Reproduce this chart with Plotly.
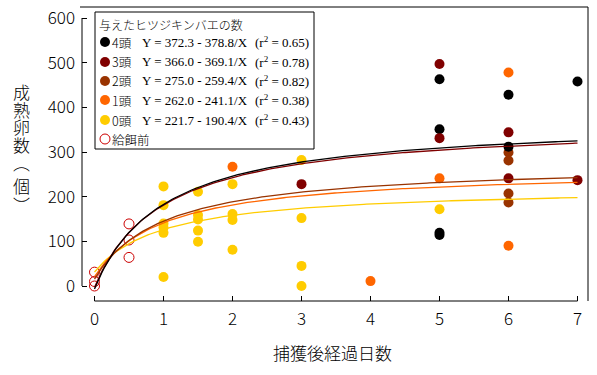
import numpy as np
import plotly.graph_objects as go

# ---------------- data ----------------
group_labels = ["4頭", "3頭", "2頭", "1頭", "0頭"]
fit_a = [372.3, 366.0, 275.0, 262.0, 221.7]
fit_b = [378.8, 369.1, 259.4, 241.1, 190.4]
fit_r2 = [0.65, 0.78, 0.82, 0.38, 0.43]
group_colors = ["#000000", "#800000", "#993300", "#FF6600", "#FFCC00"]

days_4 = [5, 5, 5, 5, 6, 6, 7]
eggs_4 = [463, 351, 119, 114, 428, 312, 458]
days_3 = [3, 5, 5, 6, 6, 7]
eggs_3 = [228, 497, 331, 344, 241, 237]
days_2 = [6, 6, 6, 6]
eggs_2 = [299, 281, 207, 187]
days_1 = [2, 4, 5, 6, 6]
eggs_1 = [267, 11, 241, 478, 90]
days_0 = [1, 1, 1, 1, 1, 1, 1.5, 1.5, 1.5, 1.5, 1.5, 2, 2, 2, 2, 3, 3, 3, 3, 5]
eggs_0 = [223, 181, 140, 131, 119, 20, 211, 159, 149, 124, 99, 228, 161, 148, 81, 282, 152, 45, 0, 172]
days_pre = [0, 0, 0, 0.5, 0.5, 0.5]
eggs_pre = [31, 10, 0, 139, 103, 64]
pre_label = "給餌前"
pre_color = "#CC0000"

x_ticks = [0, 1, 2, 3, 4, 5, 6, 7]
y_ticks = [0, 100, 200, 300, 400, 500, 600]
x_title = "捕獲後経過日数"
y_title_chars = ["成", "熟", "卵", "数", "︵", "個", "︶"]
legend_title = "与えたヒツジキンバエの数"

# ---------------- layout helpers ----------------
W, H = 597, 375
L, R, T, B = 82, 588, 7, 301


def px(xp):
    return (xp - L) / (R - L)


def py(yp):
    return (B - yp) / (B - T)


CJK = "Noto Sans CJK JP"
SERIF = "Liberation Serif"
LIGHT = 300

fig = go.Figure()

series = {
    "0頭": (days_0, eggs_0),
    "1頭": (days_1, eggs_1),
    "2頭": (days_2, eggs_2),
    "4頭": (days_4, eggs_4),
    "3頭": (days_3, eggs_3),
}
for name, (dx, ey) in series.items():
    col = group_colors[group_labels.index(name)]
    fig.add_trace(go.Scatter(x=dx, y=ey, mode="markers", name=name,
                             marker=dict(size=10, color=col, line=dict(width=0)),
                             showlegend=False, cliponaxis=False))

fig.add_trace(go.Scatter(x=days_pre, y=eggs_pre, mode="markers", name=pre_label,
                         marker=dict(size=10, symbol="circle-open", color=pre_color,
                                     line=dict(width=1)),
                         showlegend=False, cliponaxis=False))

# fitted curves Y = a - b/X, X = days + 1
xs = np.linspace(0, 7, 200)
for i in [4, 3, 2, 1, 0]:
    ys = fit_a[i] - fit_b[i] / (xs + 1)
    fig.add_trace(go.Scatter(x=xs, y=ys, mode="lines", name=group_labels[i] + " fit",
                             line=dict(color=group_colors[i], width=1.3),
                             showlegend=False, hoverinfo="skip"))

shapes = []
# axis lines (offset style)
shapes.append(dict(type="line", xref="paper", yref="y", x0=0, x1=0, y0=0, y1=600,
                   line=dict(color="black", width=1)))
shapes.append(dict(type="line", xref="x", yref="paper", x0=0, x1=7, y0=0, y1=0,
                   line=dict(color="black", width=1)))
# frame top / right
shapes.append(dict(type="line", xref="paper", yref="paper", x0=px(80), x1=1, y0=1, y1=1,
                   line=dict(color="black", width=1)))
shapes.append(dict(type="line", xref="paper", yref="paper", x0=1, x1=1, y0=0, y1=1,
                   line=dict(color="black", width=1)))
# legend box
shapes.append(dict(type="rect", xref="paper", yref="paper", x0=px(95), x1=px(314),
                   y0=py(149), y1=py(12), line=dict(color="black", width=1),
                   fillcolor="white", layer="above"))

annotations = []
annotations.append(dict(text=legend_title, x=px(97), y=py(25), xref="paper", yref="paper",
                        xanchor="left", yanchor="middle", showarrow=False,
                        font=dict(family=CJK, size=12, color="black", weight=LIGHT)))
row_y = [42, 62, 81, 100, 120]
for i in range(5):
    yy = row_y[i]
    shapes.append(dict(type="circle", xref="paper", yref="paper", xsizemode="pixel",
                       ysizemode="pixel", xanchor=px(105), yanchor=py(yy),
                       x0=-5, x1=5, y0=-5, y1=5, fillcolor=group_colors[i],
                       line=dict(width=0), layer="above"))
    annotations.append(dict(text=group_labels[i], x=px(110), y=py(yy), xref="paper", yref="paper",
                            xanchor="left", yanchor="middle", showarrow=False,
                            font=dict(family=CJK, size=12.5, color="black", weight=LIGHT)))
    annotations.append(dict(text=f"Y = {fit_a[i]:.1f} - {fit_b[i]:.1f}/X",
                            x=px(140), y=py(yy), xref="paper", yref="paper",
                            xanchor="left", yanchor="middle", showarrow=False,
                            font=dict(family=SERIF, size=13, color="black")))
    annotations.append(dict(text=f"(r<sup>2</sup> = {fit_r2[i]:.2f})",
                            x=px(253), y=py(yy), xref="paper", yref="paper",
                            xanchor="left", yanchor="middle", showarrow=False,
                            font=dict(family=SERIF, size=13, color="black")))
shapes.append(dict(type="circle", xref="paper", yref="paper", xsizemode="pixel",
                   ysizemode="pixel", xanchor=px(105), yanchor=py(139),
                   x0=-5, x1=5, y0=-5, y1=5, fillcolor="rgba(0,0,0,0)",
                   line=dict(width=1, color=pre_color), layer="above"))
annotations.append(dict(text=pre_label, x=px(110), y=py(139), xref="paper", yref="paper",
                        xanchor="left", yanchor="middle", showarrow=False,
                        font=dict(family=CJK, size=12.5, color="black", weight=LIGHT)))

# axis titles
annotations.append(dict(text=x_title, x=px(332), y=py(352), xref="paper", yref="paper",
                        xanchor="center", yanchor="middle", showarrow=False,
                        font=dict(family=CJK, size=17, color="black", weight=LIGHT)))
y_char_pos = [91.5, 109, 126.5, 144, 163, 185, 204]
for ch, yy in zip(y_title_chars, y_char_pos):
    annotations.append(dict(text=ch, x=px(21), y=py(yy), xref="paper", yref="paper",
                            xanchor="center", yanchor="middle", showarrow=False,
                            font=dict(family=CJK, size=17, color="black", weight=LIGHT)))

x0_px, x7_px = 94.5, 577.5
ppu = (x7_px - x0_px) / 7
y0_px, y600_px = 286, 18
ppv = (y0_px - y600_px) / 600

fig.update_layout(
    width=W, height=H,
    margin=dict(l=L, r=W - R, t=T, b=H - B, autoexpand=False),
    paper_bgcolor="white", plot_bgcolor="white",
    showlegend=False,
    shapes=shapes, annotations=annotations,
    xaxis=dict(range=[(L - x0_px) / ppu, (R - x0_px) / ppu], tickvals=x_ticks,
               ticktext=[str(v) for v in x_ticks], automargin=False,
               ticks="inside", ticklen=5, tickwidth=1, tickcolor="black",
               showline=False, showgrid=False, zeroline=False,
               tickfont=dict(family=CJK, size=17, color="black", weight=LIGHT),
               ticklabelstandoff=6, fixedrange=True),
    yaxis=dict(range=[-(B - y0_px) / ppv, (y0_px - T) / ppv], tickvals=y_ticks,
               ticktext=[str(v) for v in y_ticks], automargin=False,
               ticks="inside", ticklen=5, tickwidth=1, tickcolor="black",
               showline=False, showgrid=False, zeroline=False,
               tickfont=dict(family=CJK, size=17, color="black", weight=LIGHT),
               ticklabelstandoff=6, fixedrange=True),
)

fig.write_html("out.html", config={"displayModeBar": False},
               post_script="document.body.style.margin='0';document.body.style.padding='0';")
